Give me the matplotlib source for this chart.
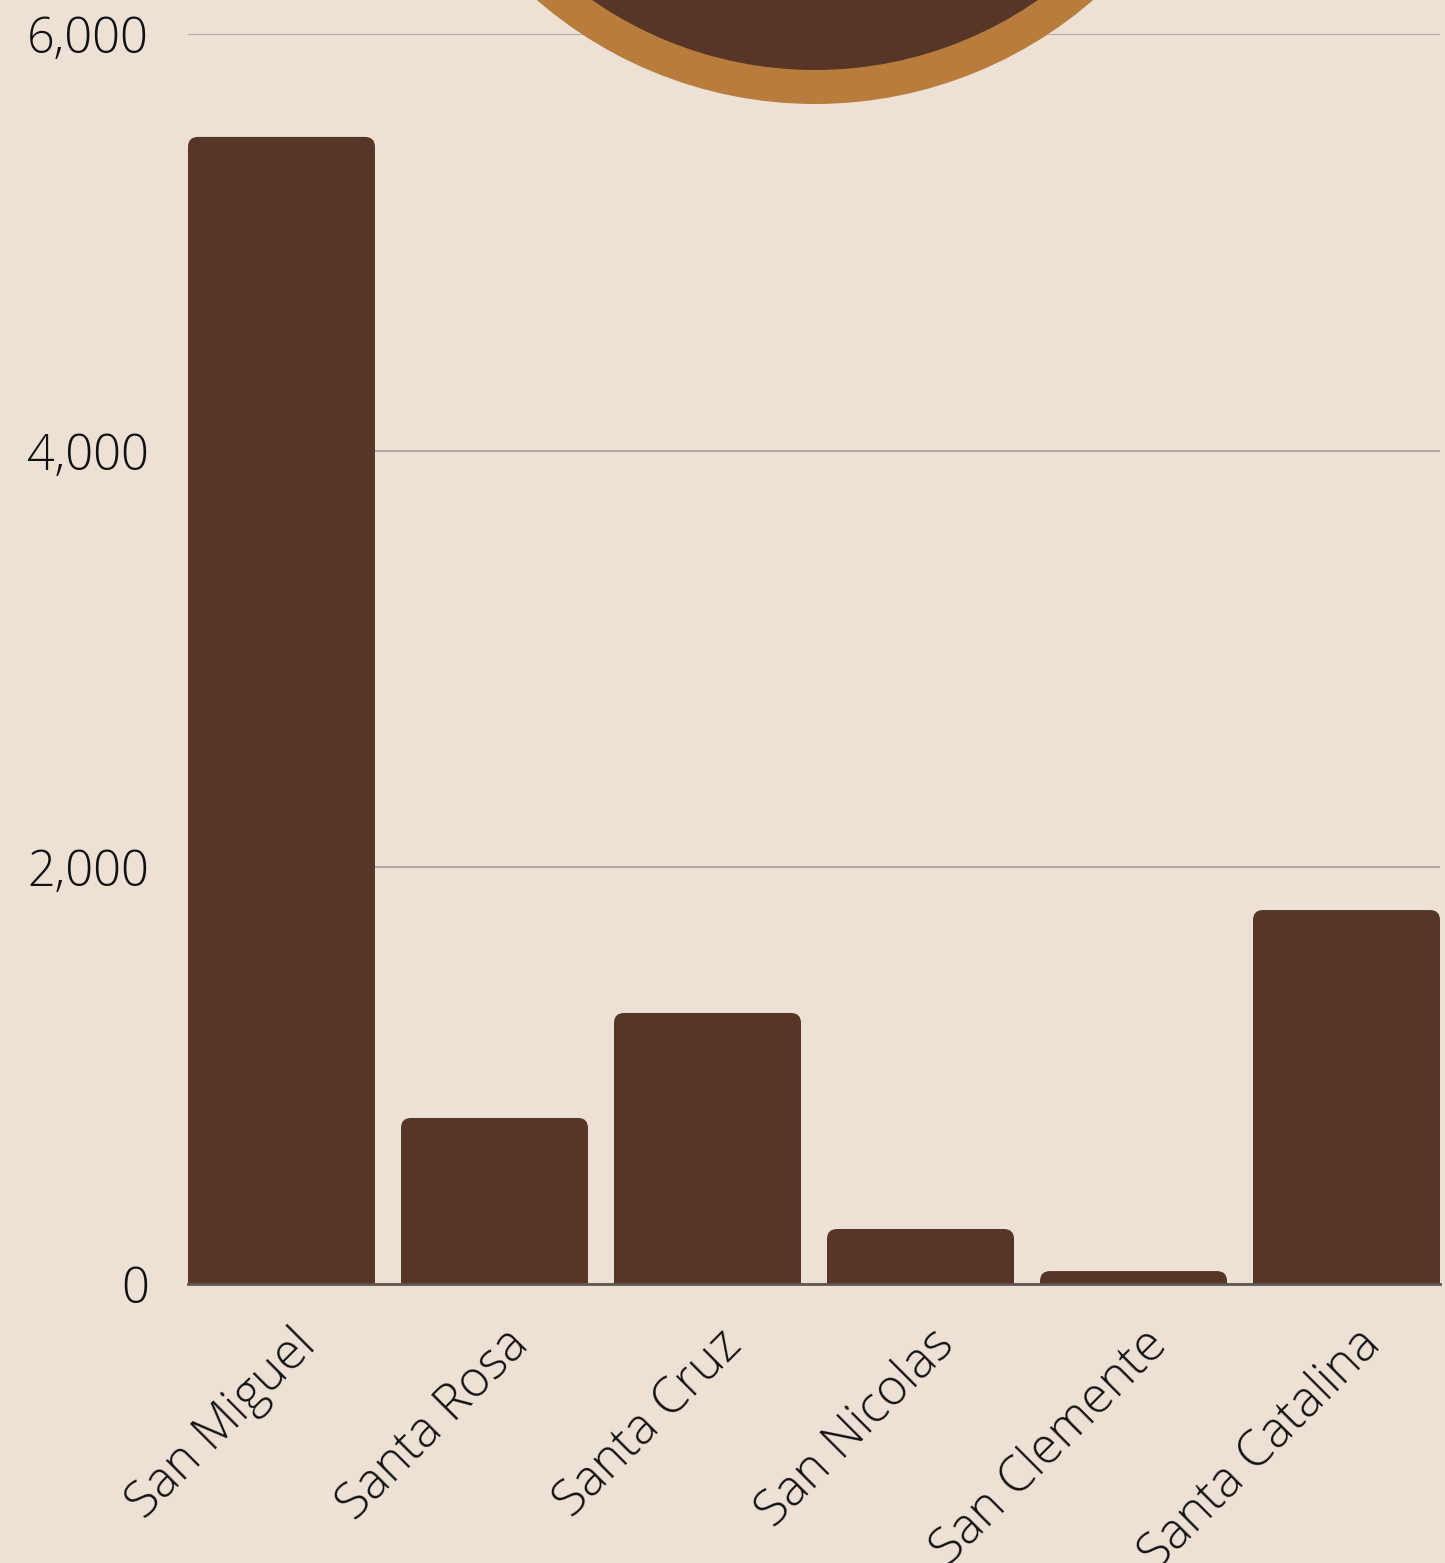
import matplotlib
matplotlib.use("Agg")
import matplotlib.pyplot as plt
from matplotlib.patches import FancyBboxPatch, Circle
from matplotlib.ticker import FuncFormatter
import matplotlib.transforms as mtransforms

islands = ["San Miguel", "Santa Rosa", "Santa Cruz", "San Nicolas", "San Clemente", "Santa Catalina"]
values = [5506, 797, 1301, 264, 62, 1795]
y_ticks = [0, 2000, 4000, 6000]

BG = "#EDE0D5"
BAR = "#573628"
RING = "#B87D3D"
GRID = "#B5A9A1"

plt.rcParams["font.family"] = ["Open Sans", "DejaVu Sans"]

W, H, DPI = 1445, 1563, 100
fig = plt.figure(figsize=(W / DPI, H / DPI), dpi=DPI, facecolor=BG)
ax = fig.add_axes([188 / W, 1 - 1284 / H, 1252 / W, 1250 / H])
ax.set_facecolor(BG)

width = 187 / 213
x = list(range(len(islands)))
bars = ax.bar(x, values, width=width, color=BAR)

# swap the plain bars for ones with rounded top corners
px_x = 213.0            # pixels per category
px_y = 1250 / 6000      # pixels per unit
radius = 10 / px_x
aspect = (1 / px_y) / (1 / px_x)
for b in bars:
    b.set_visible(False)
    extra = radius * aspect
    p = FancyBboxPatch((b.get_x(), -extra), b.get_width(), b.get_height() + extra,
                       boxstyle=f"round,pad=0,rounding_size={radius}",
                       mutation_aspect=aspect, fc=BAR, ec="none", zorder=2)
    ax.add_patch(p)

ax.set_xlim(-width / 2, len(islands) - 1 + width / 2)
ax.set_ylim(0, 6000)
ax.set_yticks(y_ticks)
ax.yaxis.set_major_formatter(FuncFormatter(lambda v, _: f"{v:,.0f}"))
ax.grid(axis="y", color=GRID, linewidth=1.5, zorder=0)
ax.set_axisbelow(True)

for s in ["top", "right", "left"]:
    ax.spines[s].set_visible(False)
ax.spines["bottom"].set_color("#5E5753")
ax.spines["bottom"].set_linewidth(2)
ax.spines["bottom"].set_zorder(3)

ax.tick_params(axis="x", length=0, labelsize=36, colors="#111111", pad=26)
ax.tick_params(axis="y", length=0, labelsize=35, colors="#111111", pad=28)
ax.set_xticks(x)
ax.set_xticklabels(islands, rotation=45, ha="right", rotation_mode="anchor",
                   fontweight="light")
for t in ax.get_yticklabels():
    t.set_fontweight("light")

# nudge the rotated labels a little to the right
shift = mtransforms.ScaledTranslation(9 / DPI, 0, fig.dpi_scale_trans)
for t in ax.get_xticklabels():
    t.set_transform(t.get_transform() + shift)

# decorative ring hanging from the top edge
tr = mtransforms.IdentityTransform()
cx, cy = 815, H + 320
fig.patches.append(Circle((cx, cy), 424, transform=tr, fc=RING, ec="none", zorder=5))
fig.patches.append(Circle((cx, cy), 390, transform=tr, fc=BAR, ec="none", zorder=6))

fig.savefig("out.png", dpi=DPI, facecolor=BG)
